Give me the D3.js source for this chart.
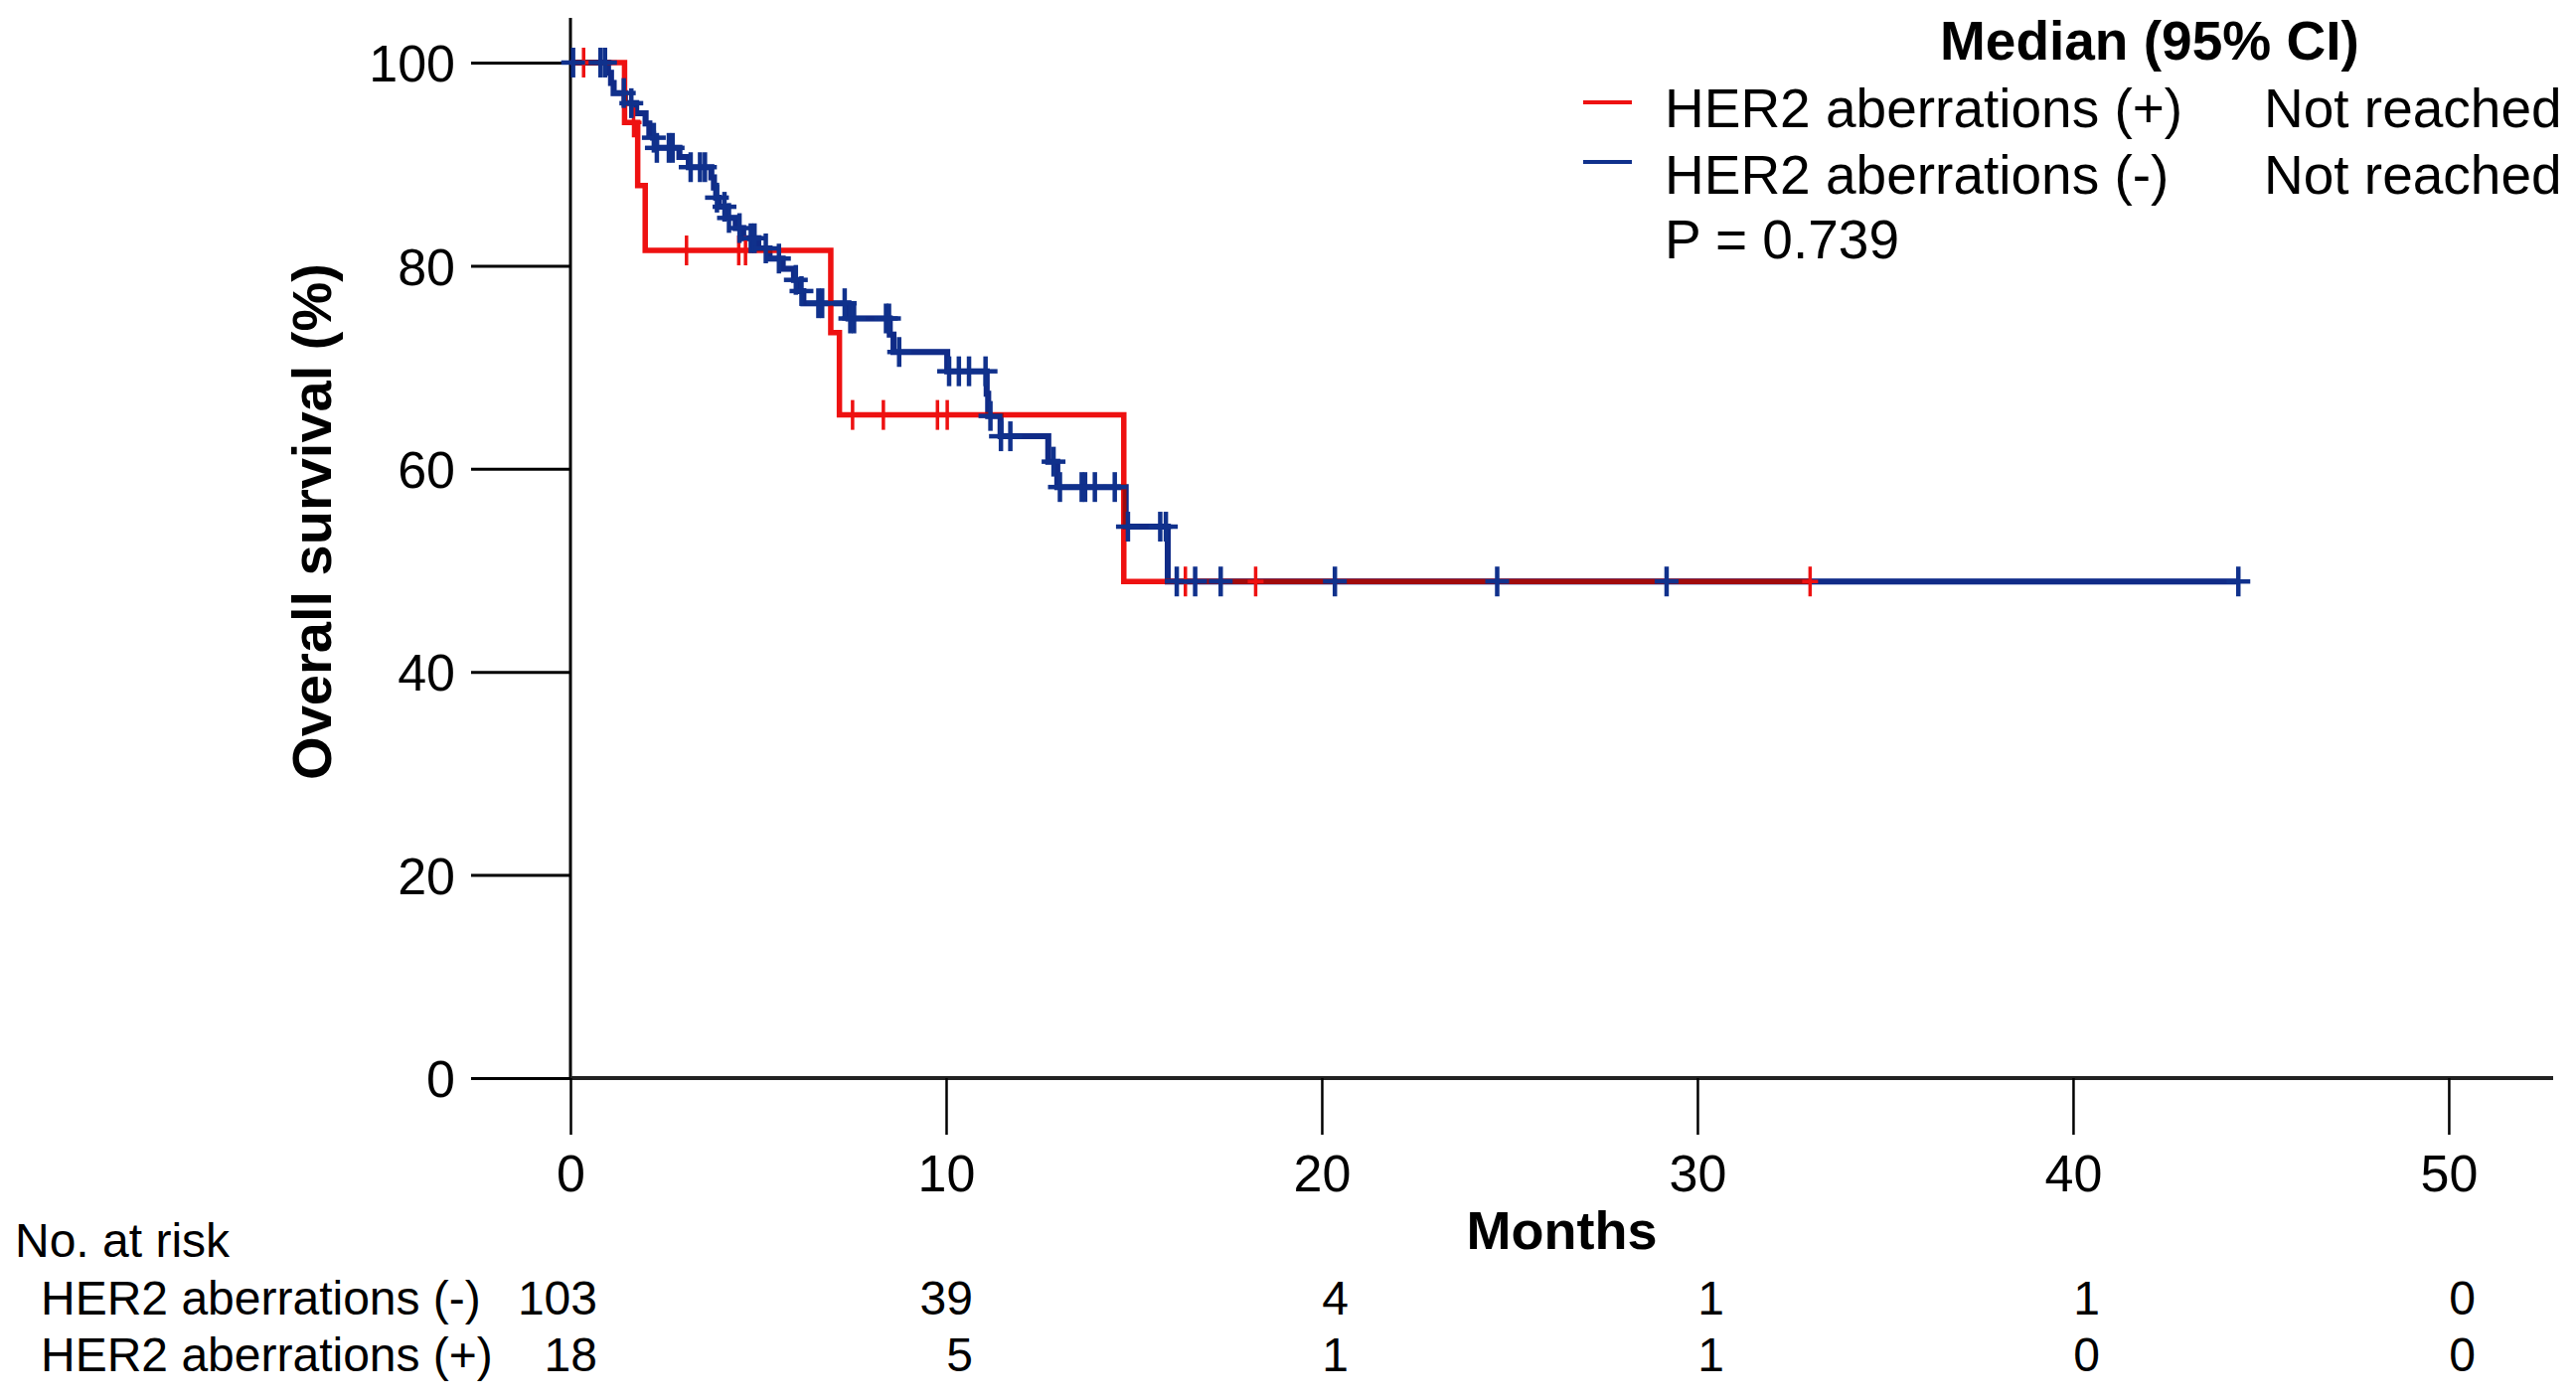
<!DOCTYPE html>
<html>
<head>
<meta charset="utf-8">
<script src="https://cdn.jsdelivr.net/npm/d3@7"></script>
<style>
  body { margin: 0; background: #fff; }
  text { font-family: "Liberation Sans", Arial, sans-serif; fill: #000; }
</style>
</head>
<body>
<svg id="chart" width="2592" height="1409"></svg>
<script>
// DATA
// ========================================================================
var x_ticks = [0, 10, 20, 30, 40, 50];
var y_ticks = [0, 20, 40, 60, 80, 100];

// HER2 aberrations (+): event times (months) and survival (%) after each drop
var pos_times = [1.44, 1.79, 1.99, 6.93, 7.16, 14.73];
var pos_surv  = [94.1, 87.9, 81.5, 73.4, 65.3, 48.9];
var pos_censor = [0.35, 1.68, 3.09, 4.48, 4.66, 7.51, 8.33, 9.77, 10.03, 16.37, 18.24, 33.0];
var pos_end = 33.0;

// HER2 aberrations (-)
var neg_times = [1.00, 1.08, 1.15, 1.45, 1.75, 2.00, 2.10, 2.20, 2.28, 2.90, 3.15, 3.75, 3.82,
                 3.88, 3.95, 4.15, 4.40, 4.60, 5.00, 5.30, 5.65, 5.95, 6.10, 6.20, 7.40, 8.50,
                 8.60, 10.03, 11.08, 11.12, 11.45, 12.72, 12.96, 14.78, 15.90];
var neg_surv  = [99.0, 98.0, 97.0, 96.0, 95.0, 94.0, 93.0, 92.6, 91.6, 90.7, 89.7, 88.7, 87.7,
                 86.7, 85.8, 84.7, 83.7, 82.7, 81.7, 80.7, 79.7, 78.6, 77.5, 76.3, 74.8, 73.2,
                 71.5, 69.6, 67.4, 65.2, 63.2, 60.7, 58.2, 54.3, 48.9];
var neg_censor = [0.07, 0.80, 0.92, 1.42, 1.62, 2.22, 2.30, 2.62, 2.72, 3.20, 3.45, 3.58, 3.90,
                  4.10, 4.22, 4.50, 4.80, 4.90, 5.20, 5.55, 6.00, 6.15, 6.60, 6.70, 7.30, 7.45,
                  7.55, 8.40, 8.48, 8.75, 10.08, 10.34, 10.61, 11.05, 11.18, 11.46, 11.71, 12.86,
                  13.03, 13.61, 13.70, 13.96, 14.49, 14.84, 15.70, 15.85, 16.14, 16.63, 17.31,
                  20.35, 24.67, 29.18, 44.4];
var neg_end = 44.4;

var legend_labels = ["HER2 aberrations (+)", "HER2 aberrations (-)"];
var legend_medians = ["Not reached", "Not reached"];
var p_value_text = "P = 0.739";

var risk_rows = ["HER2 aberrations (-)", "HER2 aberrations (+)"];
var risk_neg = [103, 39, 4, 1, 1, 0];
var risk_pos = [18, 5, 1, 1, 0, 0];
// ========================================================================

var RED = "#ee1111";
var BLUE = "#1840c8";
var NAVY = "#10318c";

var svg = d3.select("#chart");
svg.append("rect").attr("width", 2592).attr("height", 1409).attr("fill", "#fff");

var x = d3.scaleLinear().domain([0, 52.78]).range([574, 2569]);
var y = d3.scaleLinear().domain([0, 104.4]).range([1085, 18]);

function survivalAt(times, surv, t) {
  var s = 100;
  for (var i = 0; i < times.length; i++) {
    if (times[i] <= t) s = surv[i];
  }
  return s;
}

function curvePoints(times, surv, end) {
  var pts = [[0, 100]];
  times.forEach(function (t, i) { pts.push([t, surv[i]]); });
  pts.push([end, surv[surv.length - 1]]);
  return pts;
}

// Axes
var yAxis = d3.axisLeft(y).tickValues(y_ticks).tickSize(100).tickPadding(16);
var gy = svg.append("g").attr("transform", "translate(574,0)").call(yAxis);
gy.select(".domain").attr("stroke-width", 3).attr("d", "M0," + y(104.4) + "V" + y(0));
gy.selectAll(".tick line").attr("stroke-width", 3);
gy.selectAll(".tick text").style("font-size", "52px").attr("dy", "0.36em");

var xAxis = d3.axisBottom(x).tickValues(x_ticks).tickSize(57).tickPadding(20);
var gx = svg.append("g").attr("transform", "translate(0,1085)").call(xAxis);
gx.select(".domain").attr("stroke-width", 4).attr("stroke", "#222").attr("d", "M" + x(0) + ",0H" + x(52.78));
gx.selectAll(".tick line").attr("stroke-width", 2.5);
gx.selectAll(".tick text").style("font-size", "52px").attr("dy", "0.72em");

svg.append("text")
  .attr("x", (x(0) + x(52.78)) / 2).attr("y", 1257)
  .attr("text-anchor", "middle")
  .style("font-size", "54px").style("font-weight", "bold")
  .text("Months");

svg.append("text")
  .attr("transform", "translate(333,525) rotate(-90)")
  .attr("text-anchor", "middle")
  .style("font-size", "56px").style("font-weight", "bold")
  .text("Overall survival (%)");

// Curves
var line = d3.line()
  .x(function (d) { return x(d[0]); })
  .y(function (d) { return y(d[1]); })
  .curve(d3.curveStepAfter);

var plot = svg.append("g").attr("class", "curves");

function drawCensors(times, surv, censors, color, width, hw) {
  var g = plot.append("g");
  censors.forEach(function (t) {
    var cx = x(t), cy = y(survivalAt(times, surv, t));
    g.append("line").attr("x1", cx).attr("x2", cx).attr("y1", cy - 15).attr("y2", cy + 15)
      .attr("stroke", color).attr("stroke-width", width);
    g.append("line").attr("x1", cx - hw).attr("x2", cx + hw).attr("y1", cy).attr("y2", cy)
      .attr("stroke", color).attr("stroke-width", width);
  });
}

var neg_pts = curvePoints(neg_times, neg_surv, neg_end);

plot.append("path")
  .datum(neg_pts)
  .attr("d", line).attr("fill", "none")
  .attr("stroke", BLUE).attr("stroke-width", 6);

plot.append("path")
  .datum(curvePoints(pos_times, pos_surv, pos_end))
  .attr("d", line).attr("fill", "none")
  .attr("stroke", RED).attr("stroke-width", 5.5);

// shade along the blue curve: deepens blue to navy and red to maroon where they overlap
plot.append("path")
  .datum(neg_pts)
  .attr("d", line).attr("fill", "none")
  .attr("stroke", "#000").attr("stroke-width", 6).attr("stroke-opacity", 0.32);

drawCensors(pos_times, pos_surv, pos_censor, RED, 3.5, 8);
drawCensors(neg_times, neg_surv, neg_censor, NAVY, 4.5, 12);

// Legend
var legend = svg.append("g");
legend.append("text").attr("x", 1952).attr("y", 60)
  .style("font-size", "55px").style("font-weight", "bold")
  .text("Median (95% CI)");

var legend_colors = [RED, NAVY];
var legend_base = [128, 195];
var legend_line_y = [103, 163];
legend_labels.forEach(function (lab, i) {
  legend.append("line")
    .attr("x1", 1593).attr("x2", 1642)
    .attr("y1", legend_line_y[i]).attr("y2", legend_line_y[i])
    .attr("stroke", legend_colors[i]).attr("stroke-width", 4);
  legend.append("text").attr("x", 1675).attr("y", legend_base[i])
    .style("font-size", "55px").text(lab);
  legend.append("text").attr("x", 2278).attr("y", legend_base[i])
    .style("font-size", "55px").text(legend_medians[i]);
});
legend.append("text").attr("x", 1675).attr("y", 260)
  .style("font-size", "55px").text(p_value_text);

// Number at risk table
var table = svg.append("g").style("font-size", "48px");
table.append("text").attr("x", 15).attr("y", 1265).text("No. at risk");
var row_base = [1323, 1380];
var row_values = [risk_neg, risk_pos];
risk_rows.forEach(function (lab, r) {
  table.append("text").attr("x", 41).attr("y", row_base[r]).text(lab);
  table.selectAll(null)
    .data(row_values[r]).enter()
    .append("text")
      .attr("x", function (d, i) { return x(x_ticks[i]) + 27; })
      .attr("y", row_base[r])
      .attr("text-anchor", "end")
      .text(function (d) { return d; });
});
</script>
</body>
</html>
